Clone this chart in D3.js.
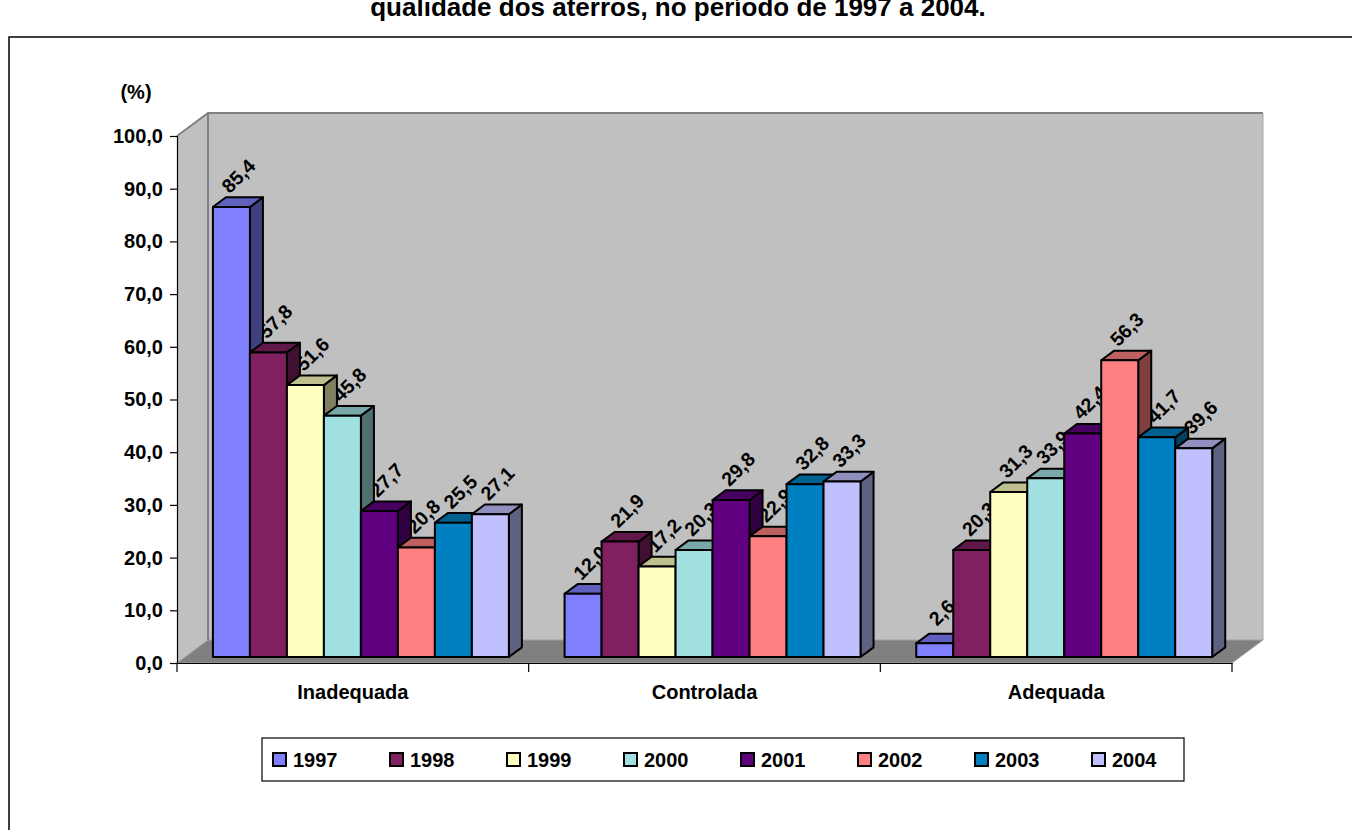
<!DOCTYPE html>
<html>
<head>
<meta charset="utf-8">
<script src="https://cdn.jsdelivr.net/npm/d3@7"></script>
<style>
  html, body { margin: 0; padding: 0; background: #fff; }
  svg { display: block; }
  text { font-family: Arial, "Liberation Sans", sans-serif; font-weight: bold; fill: #000; }
</style>
</head>
<body>
<svg id="chart" width="1352" height="830"></svg>
<script>
// Landfill quality categories and survey years
const categories = ["Inadequada", "Controlada", "Adequada"];
const years = ["1997", "1998", "1999", "2000", "2001", "2002", "2003", "2004"];

// Percentage of landfills per category, one value per year
const inadequada = [85.4, 57.8, 51.6, 45.8, 27.7, 20.8, 25.5, 27.1];
const controlada = [12.0, 21.9, 17.2, 20.3, 29.8, 22.9, 32.8, 33.3];
const adequada   = [2.6, 20.3, 31.3, 33.9, 42.4, 56.3, 41.7, 39.6];

const yTicks = [0, 10, 20, 30, 40, 50, 60, 70, 80, 90, 100];
const yearColors = ["#8080FF", "#802060", "#FFFFC0", "#A0E0E0", "#600080", "#FF8080", "#0080C0", "#C0C0FF"];

const titleText = "qualidade dos aterros, no período de 1997 a 2004.";
const unitText = "(%)";

const seriesByCategory = [inadequada, controlada, adequada];

const ptBR = d3.formatLocale({ decimal: ",", thousands: ".", grouping: [3], currency: ["R$", ""] });
const fmt = ptBR.format(".1f");

const svg = d3.select("#chart");

// Front plane of the 3D box
const x0 = 177, x1 = 1232;
const y = d3.scaleLinear().domain([0, 100]).range([663, 136]);
const depth = { x: 31, y: -23 };       // projection of full floor depth
const barFront = 0.26, barBack = 0.68; // bar slab inside the depth
const bfx = depth.x * barFront, bfy = depth.y * barFront;
const bdx = depth.x * (barBack - barFront), bdy = depth.y * (barBack - barFront);

const xCat = d3.scaleBand().domain(categories).range([x0, x1]).padding(0);
const xYear = d3.scaleBand().domain(years).range([0, xCat.bandwidth()]).paddingInner(0).paddingOuter(0.753);
const color = d3.scaleOrdinal().domain(years).range(yearColors);

// Outer chart frame
svg.append("rect").attr("x", 9).attr("y", 37).attr("width", 1400).attr("height", 900)
  .attr("fill", "#fff").attr("stroke", "#000").attr("stroke-width", 1.5);

// Title (its first line lies above the visible area)
svg.append("text").attr("x", 678).attr("y", 16).attr("text-anchor", "middle")
  .style("font-size", "26px").text(titleText);

const pts = a => a.map(p => p.join(",")).join(" ");

// Walls and floor
const yTop = y(100), yBase = y(0);
svg.append("polygon").attr("points", pts([[x1 + depth.x, yTop + depth.y], [x0 + depth.x, yTop + depth.y], [x0 + depth.x, yBase + depth.y], [x1 + depth.x, yBase + depth.y]]))
  .attr("fill", "#C0C0C0").attr("stroke", "none");
svg.append("polygon").attr("points", pts([[x0, yTop], [x0 + depth.x, yTop + depth.y], [x0 + depth.x, yBase + depth.y], [x0, yBase]]))
  .attr("fill", "#C0C0C0").attr("stroke", "none");
svg.append("polygon").attr("points", pts([[x0, yBase], [x0 + depth.x, yBase + depth.y], [x1 + depth.x, yBase + depth.y], [x1, yBase]]))
  .attr("fill", "#808080").attr("stroke", "#A0A0A0").attr("stroke-width", 1);
// Wall edges
svg.append("polyline").attr("points", pts([[x0, yTop], [x0 + depth.x, yTop + depth.y], [x1 + depth.x, yTop + depth.y]]))
  .attr("fill", "none").attr("stroke", "#808080").attr("stroke-width", 2);
svg.append("line").attr("x1", x0 + depth.x).attr("x2", x0 + depth.x).attr("y1", yTop + depth.y).attr("y2", yBase + depth.y)
  .attr("stroke", "#808080").attr("stroke-width", 2);
svg.append("line").attr("x1", x1 + depth.x).attr("x2", x1 + depth.x).attr("y1", yTop + depth.y).attr("y2", yBase + depth.y)
  .attr("stroke", "#A8A8A8").attr("stroke-width", 1);

// Value axis
const yAxis = d3.axisLeft(y).tickValues(yTicks).tickSize(7).tickPadding(7).tickFormat(d => fmt(d));
const gy = svg.append("g").attr("transform", `translate(${x0},0)`).call(yAxis);
gy.select(".domain").attr("stroke", "#000").attr("stroke-width", 1.2);
gy.selectAll(".tick line").attr("stroke", "#000").attr("stroke-width", 1.2);
gy.selectAll(".tick text").style("font-size", "20px").style("font-family", "Arial, 'Liberation Sans', sans-serif").attr("font-weight", "bold");

svg.append("text").attr("x", 136).attr("y", 99).attr("text-anchor", "middle")
  .style("font-size", "20px").text(unitText);

// Category axis
const xAxis = d3.axisBottom(xCat).tickSize(0).tickPadding(22);
const gx = svg.append("g").attr("transform", `translate(0,${yBase})`).call(xAxis);
gx.select(".domain").attr("stroke", "#000").attr("stroke-width", 1.2);
gx.selectAll(".tick text").style("font-size", "20px").style("font-family", "Arial, 'Liberation Sans', sans-serif").attr("font-weight", "bold");
const sepTicks = categories.map(c => xCat(c)).concat([x1]);
svg.append("g").selectAll("line").data(sepTicks).join("line")
  .attr("x1", d => d).attr("x2", d => d).attr("y1", yBase).attr("y2", yBase + 9)
  .attr("stroke", "#000").attr("stroke-width", 1.2);

// Flatten bar records
const bars = [];
categories.forEach((c, ci) => {
  years.forEach((yr, yi) => {
    bars.push({ cat: c, year: yr, value: seriesByCategory[ci][yi] });
  });
});

function barGeom(d) {
  const left = xCat(d.cat) + xYear(d.year) + bfx;
  const right = left + xYear.bandwidth();
  const top = y(d.value) + bfy;
  const base = y(0) + bfy;
  return { left, right, top, base };
}

// Value labels sit beneath the bars in drawing order
svg.append("g").selectAll("text").data(bars).join("text")
  .attr("transform", d => {
    const g = barGeom(d);
    const cx = (g.left + g.right) / 2 + 7;
    const cy = g.top - 31;
    return `translate(${cx},${cy}) rotate(-45)`;
  })
  .attr("text-anchor", "middle").attr("dy", "0.35em")
  .style("font-size", "19.5px")
  .text(d => fmt(d.value));

// 3D bars drawn left to right
const gb = svg.append("g").attr("stroke", "#000").attr("stroke-width", 2).attr("stroke-linejoin", "round");
bars.forEach(d => {
  const g = barGeom(d);
  const c = d3.rgb(color(d.year));
  const shade = k => d3.rgb(c.r * k, c.g * k, c.b * k).formatHex();
  const b = gb.append("g");
  b.append("polygon").attr("fill", shade(0.5))
    .attr("points", pts([[g.right, g.top], [g.right + bdx, g.top + bdy], [g.right + bdx, g.base + bdy], [g.right, g.base]]));
  b.append("polygon").attr("fill", shade(0.75))
    .attr("points", pts([[g.left, g.top], [g.left + bdx, g.top + bdy], [g.right + bdx, g.top + bdy], [g.right, g.top]]));
  b.append("rect").attr("fill", c.formatHex())
    .attr("x", g.left).attr("y", g.top).attr("width", g.right - g.left).attr("height", g.base - g.top);
});

// Legend
const legX = 262, legY = 738, legW = 922, legH = 43;
svg.append("rect").attr("x", legX).attr("y", legY).attr("width", legW).attr("height", legH)
  .attr("fill", "#fff").attr("stroke", "#000").attr("stroke-width", 1.2);
const xLeg = d3.scaleBand().domain(years).range([273, 273 + 117 * years.length]);
const li = svg.append("g").selectAll("g").data(years).join("g")
  .attr("transform", d => `translate(${xLeg(d)},${legY + legH / 2})`);
li.append("rect").attr("x", 0).attr("y", -6.5).attr("width", 13).attr("height", 13)
  .attr("fill", d => color(d)).attr("stroke", "#000").attr("stroke-width", 2);
li.append("text").attr("x", 20).attr("y", 0).attr("dy", "0.36em")
  .style("font-size", "20px").text(d => d);
</script>
</body>
</html>
